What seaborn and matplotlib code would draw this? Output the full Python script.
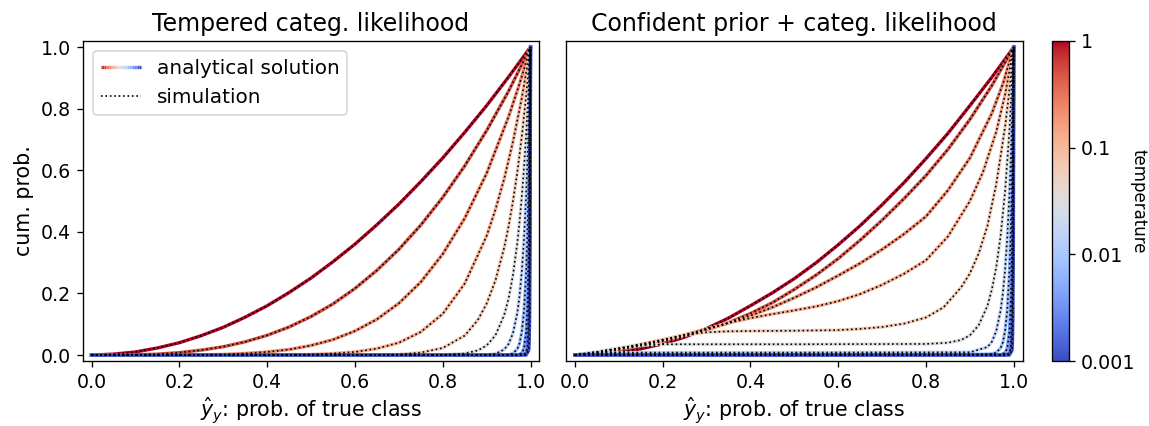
import numpy as np
import pandas as pd
import matplotlib
matplotlib.use("Agg")
import matplotlib.pyplot as plt
import seaborn as sns
from matplotlib.colors import LogNorm
from matplotlib.cm import ScalarMappable
from matplotlib.lines import Line2D
from matplotlib.legend_handler import HandlerBase
from matplotlib.collections import LineCollection

# ---------------- data ----------------
temperatures = [1, 0.5, 0.25, 0.125, 0.0625, 0.03125, 0.015625,
                0.0078125, 0.00390625, 0.001953125, 0.0009765625]

grid20 = [0, 0.05, 0.1, 0.15, 0.2, 0.25, 0.3, 0.35, 0.4, 0.45, 0.5,
          0.55, 0.6, 0.65, 0.7, 0.75, 0.8, 0.85, 0.9, 0.95, 1.0]

left_x = [
    grid20,
    grid20,
    [0, 0.1, 0.2, 0.25, 0.3, 0.35, 0.4, 0.45, 0.5, 0.55, 0.6, 0.65, 0.7, 0.75, 0.8, 0.85, 0.9, 0.95, 0.975, 1.0],
    [0, 0.3, 0.4, 0.5, 0.55, 0.6, 0.65, 0.7, 0.75, 0.8, 0.85, 0.9, 0.92, 0.94, 0.96, 0.98, 1.0],
    [0, 0.5, 0.6, 0.65, 0.7, 0.75, 0.8, 0.85, 0.88, 0.9, 0.92, 0.94, 0.95, 0.96, 0.97, 0.98, 0.99, 1.0],
    [0, 0.7, 0.8, 0.85, 0.88, 0.9, 0.92, 0.94, 0.95, 0.96, 0.97, 0.975, 0.98, 0.985, 0.99, 0.995, 1.0],
    [0, 0.85, 0.9, 0.92, 0.94, 0.95, 0.96, 0.97, 0.975, 0.98, 0.985, 0.99, 0.993, 0.996, 0.998, 1.0],
    [0, 0.93, 0.95, 0.96, 0.97, 0.975, 0.98, 0.985, 0.99, 0.993, 0.996, 0.998, 0.999, 1.0],
    [0, 0.97, 0.98, 0.985, 0.99, 0.993, 0.996, 0.998, 0.999, 1.0],
    [0, 0.98, 0.99, 0.993, 0.996, 0.998, 0.999, 1.0],
    [0, 0.99, 0.996, 0.997, 0.998, 0.999, 1.0],
]
left_y = [
    [0, 0.003, 0.01, 0.023, 0.04, 0.063, 0.09, 0.123, 0.16, 0.203, 0.25,
     0.303, 0.36, 0.423, 0.49, 0.563, 0.64, 0.723, 0.81, 0.903, 1.0],
    [0, 0.0, 0.001, 0.003, 0.008, 0.016, 0.027, 0.043, 0.064, 0.091, 0.125,
     0.166, 0.216, 0.275, 0.343, 0.422, 0.512, 0.614, 0.729, 0.857, 1.0],
    [0, 0.0, 0.0003, 0.001, 0.002, 0.005, 0.010, 0.018, 0.031, 0.050, 0.078, 0.116, 0.168, 0.237, 0.328, 0.444, 0.590, 0.774, 0.881, 1.0],
    [0, 0, 0.0003, 0.002, 0.005, 0.010, 0.021, 0.040, 0.075, 0.134, 0.232, 0.387, 0.472, 0.573, 0.693, 0.834, 1.0],
    [0, 0, 0.0002, 0.0007, 0.002, 0.008, 0.023, 0.063, 0.114, 0.167, 0.242, 0.349, 0.418, 0.500, 0.595, 0.709, 0.843, 1.0],
    [0, 0, 0.0006, 0.005, 0.015, 0.031, 0.064, 0.130, 0.184, 0.260, 0.366, 0.434, 0.513, 0.607, 0.718, 0.848, 1.0],
    [0, 0, 0.001, 0.004, 0.018, 0.036, 0.071, 0.138, 0.193, 0.269, 0.375, 0.520, 0.634, 0.771, 0.878, 1.0],
    [0, 0, 0.001, 0.005, 0.020, 0.038, 0.074, 0.142, 0.274, 0.404, 0.596, 0.772, 0.879, 1.0],
    [0, 0, 0.006, 0.021, 0.076, 0.165, 0.357, 0.598, 0.773, 1.0],
    [0, 0, 0.006, 0.027, 0.128, 0.358, 0.599, 1.0],
    [0, 0, 0.016, 0.046, 0.129, 0.359, 1.0],
]

right_x = [
    grid20,
    grid20,
    [0, 0.05, 0.1, 0.15, 0.2, 0.25, 0.3, 0.35, 0.4, 0.45, 0.5, 0.55, 0.6, 0.65, 0.7, 0.75, 0.8, 0.85, 0.9, 0.95, 0.975, 1.0],
    [0, 0.05, 0.1, 0.15, 0.2, 0.25, 0.3, 0.35, 0.4, 0.45, 0.5, 0.55, 0.6, 0.65, 0.7, 0.75, 0.8, 0.85, 0.9, 0.93, 0.96, 0.98, 1.0],
    [0, 0.05, 0.1, 0.15, 0.2, 0.25, 0.3, 0.35, 0.4, 0.5, 0.6, 0.65, 0.7, 0.75, 0.8, 0.84, 0.88, 0.9, 0.92, 0.94, 0.96, 0.98, 0.99, 1.0],
    [0, 0.05, 0.1, 0.15, 0.2, 0.5, 0.8, 0.85, 0.88, 0.9, 0.92, 0.94, 0.95, 0.96, 0.97, 0.98, 0.99, 1.0],
    [0, 0.04, 0.5, 0.9, 0.94, 0.95, 0.96, 0.97, 0.975, 0.98, 0.985, 0.99, 0.993, 0.996, 0.998, 1.0],
    [0, 0.02, 0.5, 0.93, 0.95, 0.96, 0.97, 0.975, 0.98, 0.985, 0.99, 0.993, 0.996, 0.998, 0.999, 1.0],
    [0, 0.97, 0.98, 0.985, 0.99, 0.993, 0.996, 0.998, 0.999, 1.0],
    [0, 0.98, 0.99, 0.993, 0.996, 0.998, 0.999, 1.0],
    [0, 0.99, 0.996, 0.997, 0.998, 0.999, 1.0],
]
right_y = [
    [0, 0.002, 0.009, 0.02, 0.036, 0.058, 0.086, 0.12, 0.16, 0.202, 0.248,
     0.3, 0.358, 0.42, 0.488, 0.56, 0.638, 0.72, 0.81, 0.902, 1.0],
    [0, 0.006, 0.017, 0.03, 0.045, 0.062, 0.082, 0.105, 0.135, 0.17, 0.213,
     0.26, 0.313, 0.373, 0.438, 0.508, 0.583, 0.668, 0.765, 0.875, 1.0],
    [0, 0.008, 0.02, 0.033, 0.048, 0.065, 0.084, 0.104, 0.128, 0.155, 0.186, 0.22, 0.258, 0.298, 0.343, 0.393, 0.45, 0.535, 0.64, 0.785, 0.88, 1.0],
    [0, 0.009, 0.021, 0.034, 0.049, 0.066, 0.085, 0.104, 0.12, 0.133, 0.145, 0.158, 0.175, 0.198, 0.228, 0.264, 0.308, 0.385, 0.5, 0.595, 0.725, 0.845, 1.0],
    [0, 0.01, 0.022, 0.035, 0.05, 0.065, 0.074, 0.077, 0.078, 0.079, 0.081, 0.085, 0.091, 0.102, 0.122, 0.155, 0.22, 0.265, 0.33, 0.42, 0.555, 0.74, 0.86, 1.0],
    [0, 0.01, 0.022, 0.032, 0.035, 0.035, 0.036, 0.04, 0.049, 0.064, 0.097, 0.16, 0.213, 0.286, 0.388, 0.53, 0.728, 1.0],
    [0, 0.008, 0.008, 0.009, 0.026, 0.043, 0.078, 0.145, 0.2, 0.275, 0.38, 0.524, 0.636, 0.772, 0.879, 1.0],
    [0, 0.003, 0.003, 0.003, 0.004, 0.008, 0.023, 0.041, 0.077, 0.145, 0.276, 0.406, 0.597, 0.773, 0.879, 1.0],
    [0, 0.001, 0.007, 0.022, 0.077, 0.166, 0.358, 0.598, 0.773, 1.0],
    [0, 0, 0.006, 0.027, 0.128, 0.358, 0.599, 1.0],
    [0, 0, 0.016, 0.046, 0.129, 0.359, 1.0],
]

titles = ["Tempered categ. likelihood", "Confident prior + categ. likelihood"]
xticks = [0.0, 0.2, 0.4, 0.6, 0.8, 1.0]
yticks = [0.0, 0.2, 0.4, 0.6, 0.8, 1.0]
cbar_ticks = [1, 0.1, 0.01, 0.001]
cbar_ticklabels = ["1", "0.1", "0.01", "0.001"]
legend_labels = ["analytical solution", "simulation"]

# ---------------- figure ----------------
DPI = 120
TICK_FS = 11.4
LABEL_FS = 12.3
TITLE_FS = 14.2
LEGEND_FS = 12
LW_LINE = 2.0
LW_DOT = 1.0

fig = plt.figure(figsize=(1149 / DPI, 426 / DPI), dpi=DPI)
ax1 = fig.add_axes([0.0720, 0.1521, 0.3974, 0.7519])
ax2 = fig.add_axes([0.4926, 0.1521, 0.3974, 0.7519])
cax = fig.add_axes([0.9158, 0.1521, 0.0148, 0.7519])

norm = LogNorm(vmin=0.001, vmax=1)
cmap = plt.get_cmap("coolwarm")


def draw_panel(ax, xs_list, ys_list, title):
    frames = []
    for k, (xs, ys, T) in enumerate(zip(xs_list, ys_list, temperatures)):
        frames.append(pd.DataFrame({"x": xs, "y": ys, "k": k, "T": T}))
    df = pd.concat(frames, ignore_index=True)
    for k, T in enumerate(temperatures):
        sub = df[df["k"] == k]
        sns.lineplot(data=sub, x="x", y="y", color=cmap(norm(T)), lw=LW_LINE,
                     estimator=None, sort=False, ax=ax)
    for k, T in enumerate(temperatures):
        sub = df[df["k"] == k]
        sns.lineplot(data=sub, x="x", y="y", color="black", lw=LW_DOT,
                     linestyle=":", estimator=None, sort=False, ax=ax)
    ax.set_xlim(-0.02, 1.02)
    ax.set_ylim(-0.02, 1.02)
    ax.set_xticks(xticks)
    ax.set_xticklabels([f"{t:.1f}" for t in xticks])
    ax.set_title(title, fontsize=TITLE_FS)
    ax.set_xlabel(r"$\hat{y}_y$: prob. of true class", fontsize=LABEL_FS,
                  labelpad=2.5)
    ax.set_ylabel("")
    ax.tick_params(labelsize=TICK_FS)


draw_panel(ax1, left_x, left_y, titles[0])
draw_panel(ax2, right_x, right_y, titles[1])

ax1.set_yticks(yticks)
ax1.set_yticklabels([f"{t:.1f}" for t in yticks])
ax1.set_ylabel("cum. prob.", fontsize=LABEL_FS)
ax2.set_yticks([])


class GradientHandler(HandlerBase):
    def create_artists(self, legend, orig_handle, xdescent, ydescent,
                       width, height, fontsize, trans):
        n = 24
        xs = np.linspace(-xdescent, width - xdescent, n + 1)
        y = height / 2.0 - ydescent
        segs = [[(xs[i], y), (xs[i + 1], y)] for i in range(n)]
        cols = cmap(np.linspace(1, 0, n))
        lc = LineCollection(segs, colors=cols, linewidths=LW_LINE, transform=trans)
        return [lc]


grad_handle = Line2D([], [], color="red")
sim_handle = Line2D([], [], color="black", lw=LW_DOT, linestyle=":")
ax1.legend([grad_handle, sim_handle], legend_labels, loc="upper left",
           fontsize=LEGEND_FS, handler_map={grad_handle: GradientHandler()})

sm = ScalarMappable(norm=norm, cmap=cmap)
cb = fig.colorbar(sm, cax=cax)
cb.set_ticks(cbar_ticks)
cb.set_ticklabels(cbar_ticklabels)
cb.ax.minorticks_off()
cb.ax.tick_params(labelsize=TICK_FS)
cb.set_label("temperature", rotation=270, labelpad=7, fontsize=10)

fig.savefig("out.png", dpi=DPI)
